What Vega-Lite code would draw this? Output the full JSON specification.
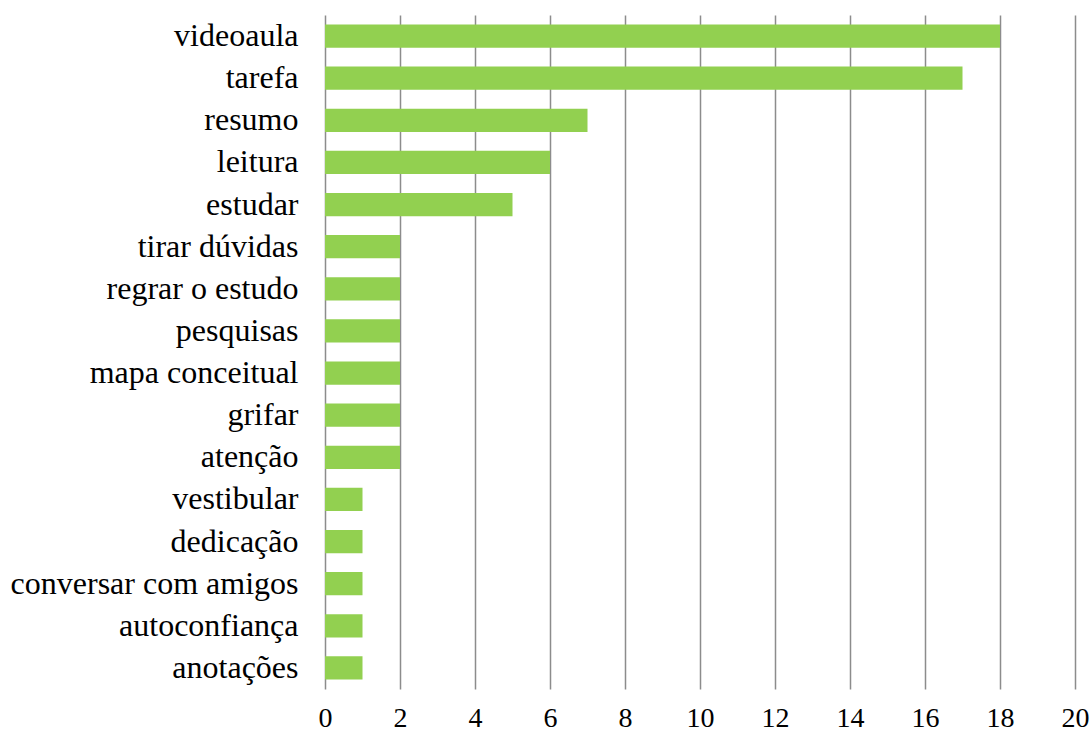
{
  "$schema": "https://vega.github.io/schema/vega-lite/v6.json",
  "autosize": {"type": "none"},
  "width": 750,
  "height": 674,
  "padding": {"left": 325, "top": 15, "right": 16, "bottom": 42},
  "background": "white",
  "config": {
    "view": {"stroke": null},
    "font": "Liberation Serif"
  },
  "data": {
    "values": [
      {"categoria": "videoaula", "n": 18},
      {"categoria": "tarefa", "n": 17},
      {"categoria": "resumo", "n": 7},
      {"categoria": "leitura", "n": 6},
      {"categoria": "estudar", "n": 5},
      {"categoria": "tirar dúvidas", "n": 2},
      {"categoria": "regrar o estudo", "n": 2},
      {"categoria": "pesquisas", "n": 2},
      {"categoria": "mapa conceitual", "n": 2},
      {"categoria": "grifar", "n": 2},
      {"categoria": "atenção", "n": 2},
      {"categoria": "vestibular", "n": 1},
      {"categoria": "dedicação", "n": 1},
      {"categoria": "conversar com amigos", "n": 1},
      {"categoria": "autoconfiança", "n": 1},
      {"categoria": "anotações", "n": 1}
    ]
  },
  "mark": {"type": "bar", "color": "#92D050"},
  "encoding": {
    "y": {
      "field": "categoria",
      "type": "nominal",
      "sort": null,
      "scale": {"paddingInner": 0.45, "paddingOuter": 0.225},
      "axis": {
        "title": null,
        "domain": false,
        "ticks": false,
        "labelFont": "Liberation Serif",
        "labelFontSize": 32,
        "labelColor": "#000000",
        "labelPadding": 27,
        "labelLimit": 400
      }
    },
    "x": {
      "field": "n",
      "type": "quantitative",
      "scale": {"domain": [0, 20], "nice": false},
      "axis": {
        "title": null,
        "values": [0, 2, 4, 6, 8, 10, 12, 14, 16, 18, 20],
        "grid": true,
        "gridColor": "#8c8c8c",
        "gridWidth": 1.5,
        "domain": false,
        "ticks": false,
        "labelFont": "Liberation Serif",
        "labelFontSize": 28,
        "labelColor": "#000000",
        "labelPadding": 15,
        "labelFlush": false
      }
    }
  }
}
